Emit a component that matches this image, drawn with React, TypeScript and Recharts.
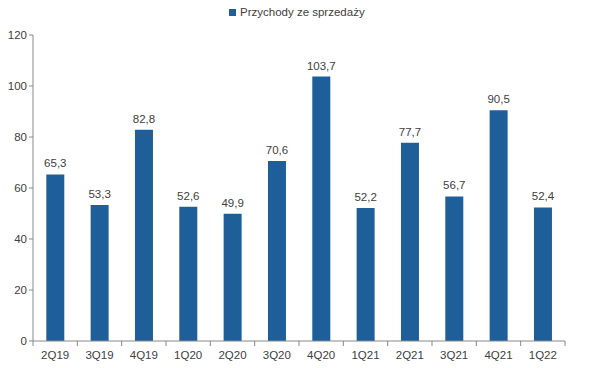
import { Bar, BarChart, LabelList, Legend, XAxis, YAxis } from 'recharts';

const quarters = ['2Q19', '3Q19', '4Q19', '1Q20', '2Q20', '3Q20', '4Q20', '1Q21', '2Q21', '3Q21', '4Q21', '1Q22'];
const revenue = [65.3, 53.3, 82.8, 52.6, 49.9, 70.6, 103.7, 52.2, 77.7, 56.7, 90.5, 52.4];
const yTicks = [0, 20, 40, 60, 80, 100, 120];

const W = 589;
const H = 368;
const X_H = 27;
const M = { top: 35, right: 24, bottom: 0, left: 0 };
const Y_W = 33;
const BLUE = '#1f5f99';
const TEXT = '#404040';
const AXIS = '#898989';
const FONT = '"Liberation Sans", Arial, sans-serif';

const data = quarters.map((q, i) => ({ q, revenue: revenue[i] }));
const band = (W - M.left - M.right - Y_W) / quarters.length;
const axisY = H - X_H;

// x tick: label at center, tick marks at category boundaries
function QTick(props: any) {
  const { x, payload, index } = props;
  const left = x - band / 2;
  return (
    <g>
      <line x1={left} x2={left} y1={axisY} y2={axisY + 5} stroke={AXIS} />
      {index === quarters.length - 1 && (
        <line x1={left + band} x2={left + band} y1={axisY} y2={axisY + 5} stroke={AXIS} />
      )}
      <text x={x} y={axisY + 18} textAnchor="middle" fill={TEXT} fontSize={11.5} fontFamily={FONT}>
        {payload.value}
      </text>
    </g>
  );
}

const fmt = (v: any) => String(v).replace('.', ',');

export default function App() {
  return (
    <div style={{ position: 'fixed', left: 0, top: 0, width: W, height: H, background: '#fff' }}>
      <BarChart width={W} height={H} data={data} margin={M} barCategoryGap="30%">
        <Legend
          verticalAlign="top"
          align="left"
          wrapperStyle={{ position: 'absolute', top: 4, left: 0, width: W }}
          content={() => (
            <div style={{ position: 'absolute', left: 229, top: 2, display: 'flex', alignItems: 'center', fontFamily: FONT, fontSize: 11.5, color: TEXT }}>
              <span style={{ width: 7, height: 7, background: BLUE, marginRight: 4, display: 'inline-block' }} />
              Przychody ze sprzedaży
            </div>
          )}
        />
        <YAxis
          width={Y_W}
          domain={[0, 120]}
          ticks={yTicks}
          interval={0}
          axisLine={{ stroke: AXIS }}
          tickLine={{ stroke: AXIS }}
          tickSize={4}
          tick={{ fill: TEXT, fontSize: 11.5, fontFamily: FONT }}
        />
        <XAxis
          dataKey="q"
          height={X_H}
          interval={0}
          axisLine={{ stroke: AXIS }}
          tickLine={false}
          tick={<QTick />}
        />
        <Bar dataKey="revenue" fill={BLUE} isAnimationActive={false}>
          <LabelList dataKey="revenue" position="top" offset={7} formatter={fmt} fill={TEXT} fontSize={11.5} fontFamily={FONT} />
        </Bar>
      </BarChart>
    </div>
  );
}
